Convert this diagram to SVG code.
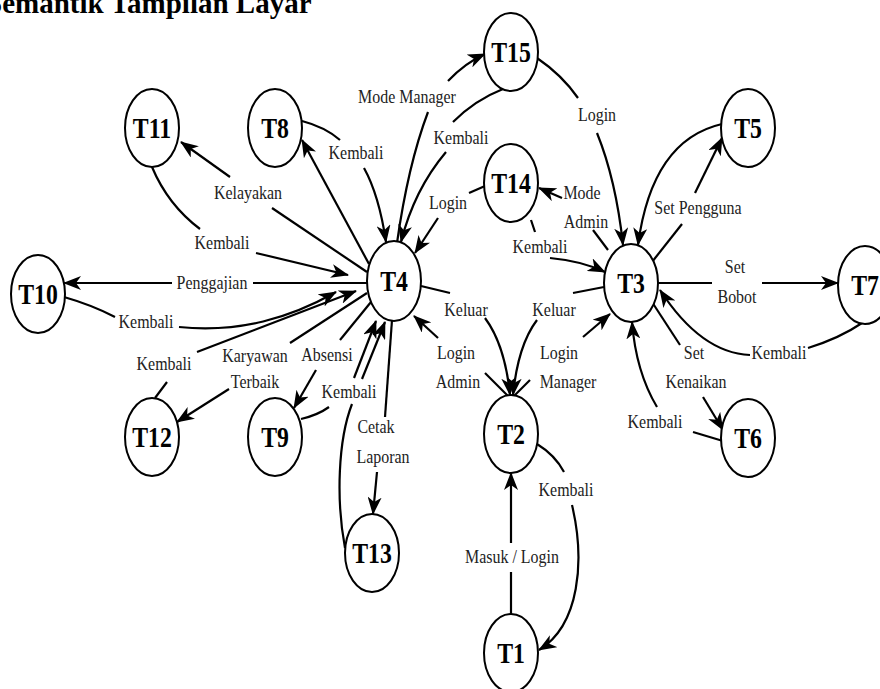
<svg xmlns="http://www.w3.org/2000/svg" width="880" height="689" viewBox="0 0 880 689">
<style>
  .node ellipse { fill: #fff; stroke: #000; stroke-width: 2; }
  .node text { font-family: "Liberation Serif", "Times New Roman", serif; font-weight: bold; font-size: 29px; text-anchor: middle; fill: #000; }
  #edges path { fill: none; stroke: #000; stroke-width: 2.2; }
  #edges path.arr { marker-end: url(#ah); }
  #edges text { font-family: "Liberation Serif", "Times New Roman", serif; font-size: 19px; text-anchor: middle; fill: #222; }
  .title { font-family: "Liberation Serif", "Times New Roman", serif; font-weight: bold; font-size: 29px; fill: #000; }
</style>
<defs>
  <marker id="ah" viewBox="0 0 18 14" refX="17" refY="7" markerWidth="18" markerHeight="14" orient="auto" markerUnits="userSpaceOnUse">
    <path d="M0,0 L18,7 L0,14 L5,7 Z" fill="#000"/>
  </marker>
</defs>
<rect width="880" height="689" fill="#fff"/>
<text class="title" x="-14" y="13">Semantik Tampilan Layar</text>

<g id="edges">
  <g id="e-t4-t11"><path d="M367,272 L272,208"/><path class="arr" d="M230,177 L181,142"/><text transform="matrix(.84 0 0 1 248 199)">Kelayakan</text></g>
  <g id="e-t11-t4"><path d="M152,167 Q168,205 200,229"/><path class="arr" d="M256,253 L348,275"/><text transform="matrix(.84 0 0 1 222 249)">Kembali</text></g>
  <g id="e-t4-t8"><path class="arr" d="M369,264 L302,140"/></g>
  <g id="e-t8-t4"><path d="M302,121 Q325,127 340,140"/><path class="arr" d="M364,168 Q379,195 386,242"/><text transform="matrix(.84 0 0 1 356 159)">Kembali</text></g>
  <g id="e-t4-t15"><path d="M397,243 Q408,165 428,112"/><path class="arr" d="M448,81 Q465,63 485,54"/><text transform="matrix(.84 0 0 1 407 103)">Mode Manager</text></g>
  <g id="e-t15-t4"><path d="M503,89 Q475,100 453,122"/><path class="arr" d="M446,152 Q414,190 401,242"/><text transform="matrix(.84 0 0 1 461 144)">Kembali</text></g>
  <g id="e-t14-t4"><path d="M485,186 L469,193"/><path class="arr" d="M438,218 L415,253"/><text transform="matrix(.84 0 0 1 448 209)">Login</text></g>
  <g id="e-t15-t3"><path d="M537,58 Q562,75 578,98"/><path class="arr" d="M597,133 Q616,180 623,245"/><text transform="matrix(.84 0 0 1 597 121)">Login</text></g>
  <g id="e-t3-t5"><path d="M652,262 L682,224"/><path class="arr" d="M695,193 L722,138"/><text transform="matrix(.84 0 0 1 698 214)">Set Pengguna</text></g>
  <g id="e-t5-t3"><path class="arr" d="M722,124 Q652,140 638,245"/></g>
  <g id="e-t3-t14"><path d="M608,250 L593,230"/><path class="arr" d="M562,198 L539,188"/><text transform="matrix(.84 0 0 1 582 199)">Mode</text><text transform="matrix(.84 0 0 1 586 228)">Admin</text></g>
  <g id="e-t14-t3"><path d="M531,220 L535,232"/><path class="arr" d="M550,258 Q582,261 605,272"/><text transform="matrix(.84 0 0 1 540 253)">Kembali</text></g>
  <g id="e-t4-t2"><path d="M421,286 L450,293"/><path class="arr" d="M485,318 Q505,345 510,395"/><text transform="matrix(.84 0 0 1 466 316)">Keluar</text></g>
  <g id="e-t3-t2"><path d="M604,287 L573,293"/><path class="arr" d="M537,320 Q518,345 513,395"/><text transform="matrix(.84 0 0 1 554 316)">Keluar</text></g>
  <g id="e-t2-t4"><path d="M508,396 L485,373"/><path class="arr" d="M438,338 L414,316"/><text transform="matrix(.84 0 0 1 456 359)">Login</text><text transform="matrix(.84 0 0 1 458 388)">Admin</text></g>
  <g id="e-t2-t3"><path d="M514,396 L530,380"/><path class="arr" d="M583,337 L610,314"/><text transform="matrix(.84 0 0 1 559 359)">Login</text><text transform="matrix(.84 0 0 1 568 388)">Manager</text></g>
  <g id="e-t3-t7"><path d="M658,283 L712,283"/><path class="arr" d="M762,283 L838,283"/><text transform="matrix(.84 0 0 1 735 273)">Set</text><text transform="matrix(.84 0 0 1 737 303)">Bobot</text></g>
  <g id="e-t7-t3"><path d="M862,323 Q840,338 808,348"/><path class="arr" d="M750,355 Q701,353 660,290"/><text transform="matrix(.84 0 0 1 779 359)">Kembali</text></g>
  <g id="e-t3-t6"><path d="M652,302 L680,345"/><path class="arr" d="M703,397 L723,430"/><text transform="matrix(.84 0 0 1 694 359)">Set</text><text transform="matrix(.84 0 0 1 696 388)">Kenaikan</text></g>
  <g id="e-t6-t3"><path d="M723,441 L693,432"/><path class="arr" d="M657,407 Q636,372 632,322"/><text transform="matrix(.84 0 0 1 655 428)">Kembali</text></g>
  <g id="e-t1-t2"><path d="M511,614 L511,572"/><path class="arr" d="M511,543 L511,473"/><text transform="matrix(.84 0 0 1 512 563)">Masuk / Login</text></g>
  <g id="e-t2-t1"><path d="M537,444 Q555,455 564,472"/><path class="arr" d="M572,505 C585,560 580,625 539,650"/><text transform="matrix(.84 0 0 1 566 496)">Kembali</text></g>
  <g id="e-t4-t13"><path d="M392,320 L385,417"/><path class="arr" d="M377,472 L373,514"/><text transform="matrix(.84 0 0 1 376 433)">Cetak</text><text transform="matrix(.84 0 0 1 383 463)">Laporan</text></g>
  <g id="e-t13-t4"><path d="M345,548 C336,500 338,440 352,404"/><path class="arr" d="M362,379 L385,322"/></g>
  <g id="e-t9-t4"><path d="M301,419 Q318,415 329,407"/><path class="arr" d="M354,378 L376,321"/><text transform="matrix(.84 0 0 1 349 398)">Kembali</text></g>
  <g id="e-t4-t9"><path d="M371,302 L340,340"/><path class="arr" d="M316,370 L294,408"/><text transform="matrix(.84 0 0 1 327 361)">Absensi</text></g>
  <g id="e-t4-t12"><path d="M367,293 L290,343"/><path class="arr" d="M229,389 L177,422"/><text transform="matrix(.84 0 0 1 255 362)">Karyawan</text><text transform="matrix(.84 0 0 1 255 388)">Terbaik</text></g>
  <g id="e-t12-t4"><path d="M155,398 L167,382"/><path class="arr" d="M197,352 L356,291"/><text transform="matrix(.84 0 0 1 164 370)">Kembali</text></g>
  <g id="e-t4-t10"><path d="M367,283 L253,283"/><path class="arr" d="M172,283 L64,283"/><text transform="matrix(.84 0 0 1 212 289)">Penggajian</text></g>
  <g id="e-t10-t4"><path d="M64,297 Q92,305 115,317"/><path class="arr" d="M179,327 C240,333 290,318 336,292"/><text transform="matrix(.84 0 0 1 146 328)">Kembali</text></g>
</g>

<g id="T1" class="node"><ellipse cx="511" cy="653" rx="27" ry="39"/><text transform="matrix(.82 0 0 1 511 663)">T1</text></g>
<g id="T2" class="node"><ellipse cx="511" cy="434" rx="27" ry="39"/><text transform="matrix(.82 0 0 1 511 444)">T2</text></g>
<g id="T3" class="node"><ellipse cx="631" cy="283" rx="27" ry="39"/><text transform="matrix(.82 0 0 1 631 293)">T3</text></g>
<g id="T4" class="node"><ellipse cx="394" cy="281" rx="27" ry="40"/><text transform="matrix(.82 0 0 1 394 291)">T4</text></g>
<g id="T5" class="node"><ellipse cx="748" cy="128" rx="27" ry="39"/><text transform="matrix(.82 0 0 1 748 138)">T5</text></g>
<g id="T6" class="node"><ellipse cx="748" cy="438" rx="27" ry="39"/><text transform="matrix(.82 0 0 1 748 448)">T6</text></g>
<g id="T7" class="node"><ellipse cx="865" cy="285" rx="27" ry="39"/><text transform="matrix(.82 0 0 1 865 295)">T7</text></g>
<g id="T8" class="node"><ellipse cx="275" cy="128" rx="27" ry="39"/><text transform="matrix(.82 0 0 1 275 138)">T8</text></g>
<g id="T9" class="node"><ellipse cx="275" cy="437" rx="27" ry="39"/><text transform="matrix(.82 0 0 1 275 447)">T9</text></g>
<g id="T10" class="node"><ellipse cx="38" cy="294" rx="27" ry="39"/><text transform="matrix(.82 0 0 1 38 304)">T10</text></g>
<g id="T11" class="node"><ellipse cx="152" cy="128" rx="27" ry="39"/><text transform="matrix(.82 0 0 1 152 138)">T11</text></g>
<g id="T12" class="node"><ellipse cx="152" cy="437" rx="27" ry="39"/><text transform="matrix(.82 0 0 1 152 447)">T12</text></g>
<g id="T13" class="node"><ellipse cx="372" cy="553" rx="27" ry="39"/><text transform="matrix(.82 0 0 1 372 563)">T13</text></g>
<g id="T14" class="node"><ellipse cx="511" cy="183" rx="27" ry="39"/><text transform="matrix(.82 0 0 1 511 193)">T14</text></g>
<g id="T15" class="node"><ellipse cx="511" cy="52" rx="27" ry="39"/><text transform="matrix(.82 0 0 1 511 62)">T15</text></g>
</svg>
